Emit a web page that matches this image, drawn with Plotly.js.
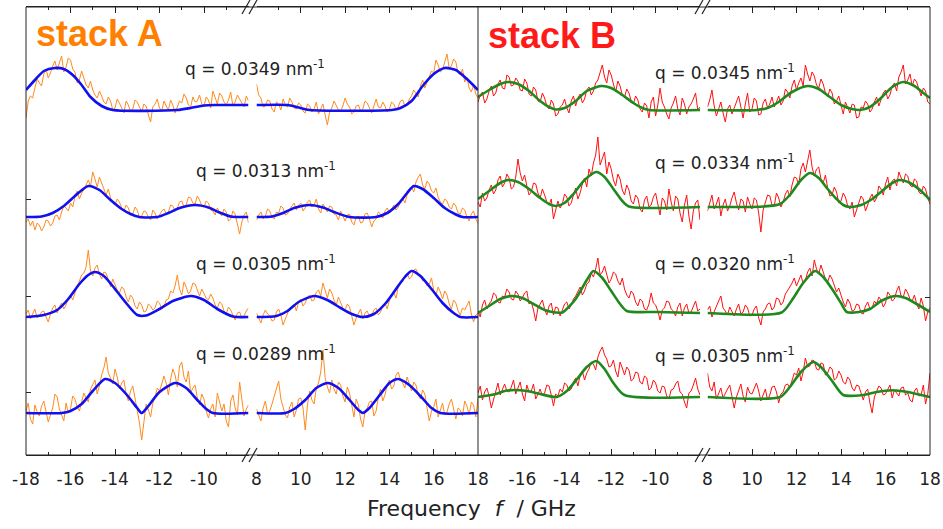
<!DOCTYPE html>
<html>
<head>
<meta charset="utf-8">
<script src="https://cdn.plot.ly/plotly-3.0.1.min.js"></script>
<style>html,body{margin:0;padding:0;background:#fff}#chart{width:943px;height:529px}</style>
</head>
<body>
<div id="chart"></div>
<script>
// ---------- frequency grids (GHz), 0.1 GHz sampling ----------
const freqNeg = [-18,-17.9,-17.8,-17.7,-17.6,-17.5,-17.4,-17.3,-17.2,-17.1,-17,-16.9,-16.8,-16.7,-16.6,-16.5,-16.4,-16.3,-16.2,-16.1,
  -16,-15.9,-15.8,-15.7,-15.6,-15.5,-15.4,-15.3,-15.2,-15.1,-15,-14.9,-14.8,-14.7,-14.6,-14.5,-14.4,-14.3,-14.2,-14.1,
  -14,-13.9,-13.8,-13.7,-13.6,-13.5,-13.4,-13.3,-13.2,-13.1,-13,-12.9,-12.8,-12.7,-12.6,-12.5,-12.4,-12.3,-12.2,-12.1,
  -12,-11.9,-11.8,-11.7,-11.6,-11.5,-11.4,-11.3,-11.2,-11.1,-11,-10.9,-10.8,-10.7,-10.6,-10.5,-10.4,-10.3,-10.2,-10.1,
  -10,-9.9,-9.8,-9.7,-9.6,-9.5,-9.4,-9.3,-9.2,-9.1,-9,-8.9,-8.8,-8.7,-8.6,-8.5,-8.4,-8.3,-8.2,-8.1,
  -8];
const freqPos = [8,8.1,8.2,8.3,8.4,8.5,8.6,8.7,8.8,8.9,9,9.1,9.2,9.3,9.4,9.5,9.6,9.7,9.8,9.9,
  10,10.1,10.2,10.3,10.4,10.5,10.6,10.7,10.8,10.9,11,11.1,11.2,11.3,11.4,11.5,11.6,11.7,11.8,11.9,
  12,12.1,12.2,12.3,12.4,12.5,12.6,12.7,12.8,12.9,13,13.1,13.2,13.3,13.4,13.5,13.6,13.7,13.8,13.9,
  14,14.1,14.2,14.3,14.4,14.5,14.6,14.7,14.8,14.9,15,15.1,15.2,15.3,15.4,15.5,15.6,15.7,15.8,15.9,
  16,16.1,16.2,16.3,16.4,16.5,16.6,16.7,16.8,16.9,17,17.1,17.2,17.3,17.4,17.5,17.6,17.7,17.8,17.9,
  18];

// ---------- vertical offsets of the stacked spectra ----------
const offsetA = [345, 238, 138, 42];
const offsetB = [345, 248, 142, 58];
const qA = ["0.0349", "0.0313", "0.0305", "0.0289"];
const qB = ["0.0345", "0.0334", "0.0320", "0.0305"];

// ---------- stack A measured spectra ----------
const dataA1Neg = [-8,9,14,12,22,31,27,24,36,41,32,37,44,49,40,46,54,38,43,52,
  50,41,38,27,30,39,33,25,22,29,20,15,12,19,14,8,6,13,9,0,
  2,11,7,1,-3,9,5,-1,1,10,8,3,-2,6,4,-5,-12,3,6,11,
  2,-1,9,4,0,10,5,-3,3,9,7,16,12,5,3,13,8,9,15,6,
  4,13,10,2,19,12,6,17,14,8,5,10,18,4,8,15,11,6,3,14,
  9];
const dataA1Pos = [26,15,12,3,4,10,9,1,-2,8,6,0,11,5,3,12,8,2,1,7,
  5,-1,-3,6,4,-2,1,8,-4,2,6,-5,-15,-2,2,9,5,0,-1,4,
  12,6,3,-4,-2,4,5,-1,1,9,7,2,-3,4,11,3,2,8,4,-2,
  1,8,6,0,3,9,10,4,5,11,14,20,17,13,24,30,22,28,33,39,
  37,50,45,38,40,47,56,42,44,51,48,37,35,41,28,33,22,18,25,16,
  12];
const dataA2Neg = [-5,-2,-9,-4,-13,-6,-8,-14,-10,-3,-4,-9,-6,1,2,-3,5,11,9,6,
  14,10,20,26,18,24,27,33,37,31,45,38,30,40,34,27,22,28,19,14,
  12,18,15,9,6,12,9,2,3,10,7,-1,1,6,5,0,-3,7,4,-2,
  2,6,8,3,5,12,11,6,9,15,16,10,12,20,19,14,13,21,17,11,
  10,16,14,7,6,2,9,4,1,8,5,-4,-2,6,3,-8,-17,-5,2,5,
  -6];
const dataA2Pos = [-3,2,5,-2,1,8,6,0,-2,5,4,11,9,2,3,8,11,14,7,12,
  14,6,9,15,17,10,12,18,8,4,13,9,5,11,10,3,2,-3,6,1,
  -4,2,3,-5,-8,0,1,-6,-5,3,4,-2,-10,-4,-2,5,3,-1,6,9,
  4,8,12,7,10,15,19,14,22,27,30,25,35,40,43,32,28,36,33,26,
  24,29,20,15,13,18,16,10,8,14,11,4,3,9,7,0,-4,3,6,-2,
  -6];
const dataA3Neg = [3,7,-2,4,8,-1,1,5,6,0,-5,3,9,12,4,10,14,8,12,18,
  22,17,25,31,36,42,44,50,67,46,41,49,52,43,38,45,44,36,30,38,
  33,27,24,30,28,20,15,22,19,11,8,15,12,5,6,13,11,7,9,16,
  14,8,10,17,18,26,24,31,42,28,22,35,30,23,26,34,33,27,21,28,
  24,19,17,23,19,12,9,15,13,6,3,10,7,1,-3,4,5,-1,1,6,
  9];
const dataA3Pos = [4,-1,-6,2,7,3,1,-4,-3,5,8,2,-8,-2,3,9,10,13,6,15,
  18,11,14,20,22,16,17,25,27,21,34,26,19,28,24,17,12,20,15,9,
  7,13,10,2,-8,-1,3,8,-2,4,6,0,1,7,9,2,5,11,14,8,
  17,22,24,19,30,36,35,41,44,38,40,47,48,43,42,36,37,31,33,39,
  27,22,30,25,18,26,22,13,8,17,14,6,2,9,7,12,16,3,-5,2,
  4];
const dataA4Neg = [2,10,-6,-11,8,1,-3,7,12,3,-9,-2,5,19,16,4,-2,-8,10,0,
  4,17,14,6,2,12,20,15,11,24,28,33,19,27,38,45,56,40,35,29,
  44,36,24,30,33,19,12,22,27,15,5,-10,-27,-6,9,3,-4,10,16,25,
  22,29,37,30,18,34,44,38,26,47,51,36,31,42,20,25,28,15,8,19,
  14,2,-5,4,9,-4,20,11,2,9,-8,-14,12,18,5,-2,31,14,-3,4,
  8];
const dataA4Pos = [4,-3,-8,5,12,-1,2,9,16,24,32,14,7,-2,-5,6,11,-4,3,14,
  15,5,-17,8,22,13,9,25,30,41,63,35,26,20,33,24,19,31,28,17,
  11,26,20,7,-4,14,8,-6,-14,2,5,11,12,-3,2,16,24,12,18,28,
  33,24,27,38,41,33,30,25,36,29,22,31,28,18,14,23,19,5,-8,2,
  6,14,-4,3,10,-2,1,9,14,4,-6,5,3,-3,12,7,-2,11,8,-4,
  15];

// ---------- stack B measured spectra ----------
const dataB1Neg = [8,15,18,7,11,19,24,14,17,26,30,22,21,35,33,24,25,32,29,20,
  19,31,27,16,14,23,20,9,8,17,12,4,1,10,6,-6,-4,3,5,11,
  2,-3,9,14,4,12,16,7,11,20,23,15,19,27,30,38,45,33,27,40,
  35,26,18,29,24,15,13,21,17,9,6,14,10,1,-2,7,4,-8,8,13,
  -6,5,22,8,3,-4,-9,2,7,14,1,-5,12,6,-4,3,6,11,17,0,
  3];
const dataB1Pos = [3,10,20,4,-6,2,8,-3,-12,1,5,-4,2,9,14,3,-8,6,17,-2,
  1,12,9,-5,-4,7,11,2,6,13,3,8,14,5,9,21,18,12,24,30,
  20,27,32,24,45,36,29,38,34,25,22,31,26,17,13,21,17,6,9,14,
  4,-4,8,2,-3,6,5,-8,-7,3,2,9,6,-2,1,8,13,4,10,17,
  20,11,15,24,27,19,33,38,45,26,30,36,24,31,28,20,14,22,19,8,
  6];
const dataB2Neg = [5,0,14,6,9,17,22,13,17,27,31,20,24,33,29,18,20,30,48,34,
  26,32,21,12,15,24,23,14,9,18,12,5,2,8,-12,-3,6,-1,3,13,
  10,1,4,12,19,8,14,23,29,20,38,31,44,52,70,42,48,55,33,45,
  38,27,21,33,28,17,12,22,17,6,3,12,9,-2,-5,7,11,0,2,10,
  14,3,-8,9,6,-3,18,5,-4,11,8,-6,-15,2,12,-9,-22,-4,4,7,
  -13];
const dataB2Pos = [-4,5,12,-2,3,10,-9,2,8,-4,1,9,15,4,-3,8,6,-5,10,3,
  -2,9,7,-6,-25,-3,4,12,11,2,1,14,9,0,5,13,17,10,22,30,
  29,22,38,44,35,47,57,40,31,38,40,28,24,32,19,11,12,20,15,4,
  6,14,10,1,-2,5,-10,-3,4,11,8,-4,2,9,13,5,9,21,18,12,
  23,30,17,26,28,21,35,29,24,33,31,22,20,28,26,15,13,21,18,9,
  3];
const dataB3Neg = [2,-4,8,13,4,9,12,20,18,11,10,17,16,24,21,14,13,22,19,12,
  15,20,22,9,11,3,-8,5,9,13,4,-2,7,10,-2,6,5,-3,3,9,
  11,4,8,14,17,21,26,18,22,29,31,40,36,44,55,38,41,47,37,30,
  34,41,39,32,28,35,24,18,15,22,19,11,7,14,12,4,3,9,20,10,
  8,2,-7,3,5,12,11,4,2,-3,6,10,-3,5,9,0,1,7,12,2,
  4];
const dataB3Pos = [3,7,-4,2,8,12,17,5,2,-2,6,1,-3,4,9,-1,1,8,5,-3,
  -2,4,7,-5,-12,1,4,9,10,3,6,15,14,8,11,19,22,26,30,35,
  27,33,38,29,33,41,45,37,53,44,39,48,42,34,31,38,34,27,21,25,
  17,11,6,14,10,2,3,9,8,0,-1,7,11,4,5,12,9,16,13,6,
  10,21,18,12,14,22,27,17,16,24,20,14,12,18,9,4,15,7,-8,1,
  5];
const dataB4Neg = [4,11,-3,5,9,1,-11,-2,7,14,2,8,13,6,5,10,17,3,10,15,
  3,-4,12,5,6,13,-2,4,8,1,4,12,11,2,-9,3,1,8,5,14,
  12,6,8,15,19,11,22,26,17,24,28,35,33,27,40,46,50,42,38,30,
  31,37,26,20,35,29,22,30,27,16,18,25,24,15,13,21,19,7,9,17,
  14,6,4,11,10,1,-2,7,8,13,16,5,3,-5,-11,4,6,12,19,8,
  2];
const dataB4Pos = [24,10,6,15,-2,3,9,-1,4,8,12,2,-11,0,7,13,1,-5,10,4,
  3,9,14,6,-4,2,8,-3,2,10,11,5,-6,3,5,12,13,9,18,24,
  22,29,16,25,39,30,31,37,36,28,27,34,33,22,24,30,28,17,19,26,
  22,15,13,20,17,9,6,12,11,3,-3,5,8,-6,-16,0,5,11,9,2,
  3,8,12,-1,7,4,1,9,10,2,4,-3,-5,6,9,1,2,12,-7,3,
  24];

// ---------- fitted curves (frequency, value) ----------
const fitA1NegF = [-18,-17.6,-17.2,-16.7,-16.3,-15.9,-15.5,-15.1,-14.6,-14.1,-11.2,-10.6,-10,-9.5,-8];
const fitA1NegV = [20,30,39,42,41,35,25,13,4,0,0,2,4.5,5,5];
const fitA1PosF = [8,9.4,9.9,10.4,14.1,14.5,15,15.5,16,16.5,17,17.5,18];
const fitA1PosV = [5,5,2.5,0,0,2,9,24,36,42,40,31,20];
const fitA2NegF = [-18,-17.3,-16.8,-16.3,-15.8,-15.2,-14.7,-14.2,-13.7,-13.3,-12.9,-12.1,-11.6,-11.1,-10.4,-9.8,-9.3,-8.8,-8];
const fitA2NegV = [0,0.5,4,11,21,31,27,17,8,3,0,0,4,9,12,9.5,4.5,0.5,0];
const fitA2PosF = [8,8.7,9.2,9.7,10.4,11,11.5,12.2,13.4,13.9,14.4,14.8,15.1,15.5,16,16.5,17,17.3,18];
const fitA2PosV = [0,0.5,4,9,12,9.5,5,0,0,4,13,24,31,28,19,9,2.5,0,0];
const fitA3NegF = [-18,-17.2,-16.6,-16.1,-15.6,-15.2,-14.9,-14.5,-14,-13.5,-13,-12.6,-12,-11.4,-10.6,-10,-9.4,-8.7,-8];
const fitA3NegV = [0,2,7,18,33,42,45,41,28,14,2,1.5,8,16,21,17,8,0.5,0];
const fitA3PosF = [8,8.9,9.4,9.9,10.6,11.2,11.8,12.3,12.8,13.3,13.8,14.3,14.7,15,15.4,15.9,16.4,16.9,17.2,18];
const fitA3PosV = [0,1,6,15,21,17,9,3,0,3,13,28,40,46,41,28,14,4,0,0];
const fitA4NegF = [-18,-16.4,-16,-15.5,-15,-14.45,-14,-13.5,-13,-12.8,-12.5,-12,-11.3,-10.8,-10.3,-9.9,-9.6,-8];
const fitA4NegV = [0,0,2,9,22,34,30,19,5,0,7,21,30,25,13,4,0,0];
const fitA4PosF = [8,9.3,9.7,10.2,10.7,11.2,11.7,12.2,12.6,12.8,13.1,13.6,14,14.4,14.9,15.4,15.9,16.3,18];
const fitA4PosV = [0,0,4,13,25,30,25,13,3,0,5,19,30,34,28,17,5,0,0];

const fitB1NegF = [-18,-17.5,-17,-16.65,-16.2,-15.7,-15.2,-14.8,-14.5,-14.1,-13.6,-13.1,-12.45,-12,-11.5,-11,-10.6,-10.3,-8];
const fitB1NegV = [13,20,26,28,26,19,9,3,0.5,2,9,19,24,22,15,7,2,0,0];
const fitB1PosF = [8,10.2,10.7,11.2,11.8,12.5,13,13.5,14,14.5,14.85,15.3,15.8,16.3,16.8,17.3,17.7,18];
const fitB1PosV = [0,0,2,8,18,24,21,13,5,1,0,3,12,23,28,24,17,12];
const fitB2NegF = [-18,-17.5,-17,-16.65,-16.2,-15.7,-15.2,-14.8,-14.5,-14.1,-13.7,-13.2,-12.67,-12.3,-11.9,-11.5,-11.2,-8];
const fitB2NegV = [8,16,24,27,25,18,9,3,1,4,13,27,35,30,18,6,0.5,0];
const fitB2PosF = [8,10.5,11.26,11.7,12.2,12.6,13,13.4,13.8,14.1,14.4,14.9,15.4,15.9,16.3,16.65,17.1,17.6,18];
const fitB2PosV = [0,0.5,3,12,27,34,29,18,8,2,0,2,8,17,24,27,24,16,7];
const fitB3NegF = [-18,-17.5,-17,-16.5,-16,-15.5,-15,-14.5,-14.2,-13.6,-13.1,-12.8,-12.4,-12,-11.6,-11.3,-10,-8];
const fitB3NegV = [0,7,14,17,15,9,3,0.5,0.5,14,33,42,35,22,9,2,1,0];
const fitB3PosF = [8,11.33,11.8,12.3,12.83,13.2,13.6,14,14.26,14.8,15.3,15.8,16.43,16.9,17.4,18];
const fitB3PosV = [0,0.5,13,30,42,36,24,10,1,1,4,12,17,15,9,1];
const fitB4NegF = [-18,-17.2,-16.8,-16.34,-15.8,-15.2,-14.46,-14,-13.5,-13.1,-12.67,-12.3,-11.9,-11.4,-8];
const fitB4NegV = [0,3,6,7,6,3,0,6,19,30,36,28,14,2,0];
const fitB4PosF = [8,11.26,11.7,12.2,12.75,13.1,13.6,14.1,15,15.6,16.3,17,17.6,18];
const fitB4PosV = [0,0,10,25,35,30,16,2,2,5,6.7,5,2,0];

// ---------- styles ----------
const ORANGE = '#FF8A1E', BLUE = '#1010F0', RED = '#FF1010', GREEN = '#1E8A1E', INK = '#222222';
const FONT = 'DejaVu Sans, Liberation Sans, Arial, sans-serif';

const dataA = [[dataA1Neg, dataA1Pos],[dataA2Neg, dataA2Pos],[dataA3Neg, dataA3Pos],[dataA4Neg, dataA4Pos]];
const dataB = [[dataB1Neg, dataB1Pos],[dataB2Neg, dataB2Pos],[dataB3Neg, dataB3Pos],[dataB4Neg, dataB4Pos]];
const fitA = [[fitA1NegF,fitA1NegV,fitA1PosF,fitA1PosV],[fitA2NegF,fitA2NegV,fitA2PosF,fitA2PosV],
              [fitA3NegF,fitA3NegV,fitA3PosF,fitA3PosV],[fitA4NegF,fitA4NegV,fitA4PosF,fitA4PosV]];
const fitB = [[fitB1NegF,fitB1NegV,fitB1PosF,fitB1PosV],[fitB2NegF,fitB2NegV,fitB2PosF,fitB2PosV],
              [fitB3NegF,fitB3NegV,fitB3PosF,fitB3PosV],[fitB4NegF,fitB4NegV,fitB4PosF,fitB4PosV]];

const traces = [];
function addStack(data, fits, offsets, axNeg, axPos, dataColor, fitColor) {
  data.forEach((d, i) => {
    traces.push({x: freqNeg, y: d[0].map(v => v + offsets[i]), xaxis: axNeg, yaxis: 'y',
      mode: 'lines', line: {color: dataColor, width: 1}, hoverinfo: 'skip'});
    traces.push({x: freqPos, y: d[1].map(v => v + offsets[i]), xaxis: axPos, yaxis: 'y',
      mode: 'lines', line: {color: dataColor, width: 1}, hoverinfo: 'skip'});
  });
  fits.forEach((f, i) => {
    traces.push({x: f[0], y: f[1].map(v => v + offsets[i]), xaxis: axNeg, yaxis: 'y',
      mode: 'lines', line: {color: fitColor, width: 2.6, shape: 'spline', smoothing: 0.7}, hoverinfo: 'skip'});
    traces.push({x: f[2], y: f[3].map(v => v + offsets[i]), xaxis: axPos, yaxis: 'y',
      mode: 'lines', line: {color: fitColor, width: 2.6, shape: 'spline', smoothing: 0.7}, hoverinfo: 'skip'});
  });
}
addStack(dataA, fitA, offsetA, 'x', 'x2', ORANGE, BLUE);
addStack(dataB, fitB, offsetB, 'x3', 'x4', RED, GREEN);
traces.push({x: [], y: [], xaxis: 'x4', yaxis: 'y2', mode: 'lines', showlegend: false});

// pixel helpers for the frame (plot area 26..930 x 7..455)
const L = 26, R = 930, T = 7, B = 455;
const px = v => (v - L) / (R - L);
const py = v => (B - v) / (B - T);

function xax(domain, range, tickvals, minor) {
  return {domain: domain, range: range, anchor: 'y', tickmode: 'array', tickvals: tickvals,
    ticktext: tickvals.map(String), ticks: 'inside', ticklen: 6, tickwidth: 1, tickcolor: INK,
    mirror: 'ticks', showline: true, linecolor: INK, linewidth: 1, showgrid: false, zeroline: false,
    minor: {tickmode: 'array', tickvals: minor, ticks: 'inside', ticklen: 3, tickwidth: 1, tickcolor: INK, showgrid: false},
    tickfont: {family: FONT, size: 17, color: INK}, ticklabelstandoff: 9, fixedrange: true};
}

const annotations = [];
annotations.push({text: '<b>stack A</b>', x: px(34), y: py(33), xref: 'paper', yref: 'paper', xanchor: 'left', yanchor: 'middle',
  showarrow: false, font: {family: 'Liberation Sans, Arial, sans-serif', size: 36, color: '#FF8000'}});
annotations.push({text: '<b>stack B</b>', x: px(486), y: py(35), xref: 'paper', yref: 'paper', xanchor: 'left', yanchor: 'middle',
  showarrow: false, font: {family: 'Liberation Sans, Arial, sans-serif', size: 36, color: '#FF1A1A'}});
const qPosA = [[183, 68], [194, 170], [194, 263], [194, 353]];
const qPosB = [[653, 72], [653, 162], [653, 263], [653, 355]];
qA.forEach((q, i) => annotations.push({text: 'q = ' + q + ' nm<sup>-1</sup>', x: px(qPosA[i][0]), y: py(qPosA[i][1]),
  xref: 'paper', yref: 'paper', xanchor: 'left', yanchor: 'middle', showarrow: false, font: {family: FONT, size: 17, color: INK}}));
qB.forEach((q, i) => annotations.push({text: 'q = ' + q + ' nm<sup>-1</sup>', x: px(qPosB[i][0]), y: py(qPosB[i][1]),
  xref: 'paper', yref: 'paper', xanchor: 'left', yanchor: 'middle', showarrow: false, font: {family: FONT, size: 17, color: INK}}));
annotations.push({text: 'Frequency\u00a0\u00a0<i>f</i>\u00a0\u00a0/ GHz', x: px(471), y: py(508), xref: 'paper', yref: 'paper',
  xanchor: 'center', yanchor: 'middle', showarrow: false, font: {family: FONT, size: 22, color: INK}});

const shapes = [
  {type: 'rect', xref: 'paper', yref: 'paper', x0: 0, x1: 1, y0: 0, y1: 1, line: {color: INK, width: 1}},
  {type: 'line', xref: 'paper', yref: 'paper', x0: px(478), x1: px(478), y0: 0, y1: 1, line: {color: INK, width: 1}}
];
[250, 703].forEach(bx => {
  [T, B].forEach(by => {
    shapes.push({type: 'line', xref: 'paper', yref: 'paper', x0: px(bx - 8), y0: py(by + 7), x1: px(bx), y1: py(by - 7), line: {color: INK, width: 1.2}});
    shapes.push({type: 'line', xref: 'paper', yref: 'paper', x0: px(bx - 1), y0: py(by + 7), x1: px(bx + 7), y1: py(by - 7), line: {color: INK, width: 1.2}});
  });
});

const layout = {
  width: 943, height: 529, margin: {l: L, r: 943 - R, t: T, b: 529 - B},
  paper_bgcolor: '#fff', plot_bgcolor: '#fff', showlegend: false,
  xaxis:  xax([0, px(248.5)], [-18, -8], [-18, -16, -14, -12, -10], [-17, -15, -13, -11, -9]),
  xaxis2: xax([px(256.5), px(478)], [8, 18], [8, 10, 12, 14, 16, 18], [9, 11, 13, 15, 17]),
  xaxis3: xax([px(478), px(700)], [-18, -8], [-16, -14, -12, -10], [-17, -15, -13, -11, -9]),
  xaxis4: xax([px(707.5), 1], [8, 18], [8, 10, 12, 14, 16, 18], [9, 11, 13, 15, 17]),
  yaxis: {range: [0, 448], domain: [0, 1], anchor: 'x', tickmode: 'array', tickvals: [63, 159, 256], ticks: 'inside',
    ticklen: 5, tickcolor: INK, showticklabels: false, showgrid: false, zeroline: false, showline: false, fixedrange: true},
  yaxis2: {range: [0, 448], overlaying: 'y', side: 'right', anchor: 'x4', tickmode: 'array', tickvals: [158], ticks: 'inside',
    ticklen: 5, tickcolor: INK, showticklabels: false, showgrid: false, zeroline: false, showline: false, fixedrange: true},
  annotations: annotations, shapes: shapes
};

Plotly.newPlot('chart', traces, layout, {displayModeBar: false, staticPlot: true});
</script>
</body>
</html>
